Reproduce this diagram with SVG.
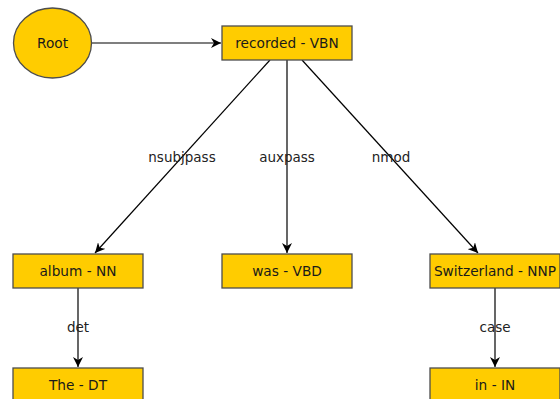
<svg xmlns="http://www.w3.org/2000/svg" width="560" height="399" viewBox="0 0 560 399">
  <style>
    .node { fill: #ffcc00; stroke: #4d4d4d; stroke-width: 1.3; }
    .label { font-family: "DejaVu Sans", sans-serif; font-size: 13.7px; fill: #1a1a1a; text-anchor: middle; dominant-baseline: central; }
    .edge { stroke: #000; stroke-width: 1.2; fill: none; marker-end: url(#arrow); }
    .elabel { font-family: "DejaVu Sans", sans-serif; font-size: 13.5px; fill: #222; text-anchor: middle; dominant-baseline: central; }
  </style>
  <defs>
    <marker id="arrow" viewBox="0 0 10 10" refX="10" refY="5" markerWidth="10" markerHeight="10" markerUnits="userSpaceOnUse" orient="auto">
      <path d="M0,0 L10,5 L0,10 L3,5 Z" fill="#000"/>
    </marker>
  </defs>
  <rect width="560" height="399" fill="#fff"/>

  <g id="connectors">
    <line class="edge" x1="92" y1="43" x2="221" y2="43"/>
    <line class="edge" x1="270" y1="60" x2="95" y2="253"/>
    <line class="edge" x1="287" y1="60" x2="287" y2="253"/>
    <line class="edge" x1="302" y1="60" x2="478" y2="253"/>
    <line class="edge" x1="78" y1="288" x2="78" y2="367"/>
    <line class="edge" x1="495" y1="288" x2="495" y2="367"/>
    <text class="elabel" x="182" y="157">nsubjpass</text>
    <text class="elabel" x="287" y="157">auxpass</text>
    <text class="elabel" x="391" y="157">nmod</text>
    <text class="elabel" x="78" y="327">det</text>
    <text class="elabel" x="495" y="327">case</text>
  </g>

  <g id="root">
    <ellipse class="node" cx="52.5" cy="43" rx="39" ry="35"/>
    <text class="label" x="52.5" y="43">Root</text>
  </g>
  <g id="recorded">
    <rect class="node" x="222" y="26" width="130" height="34"/>
    <text class="label" x="287" y="43">recorded - VBN</text>
  </g>
  <g id="album">
    <rect class="node" x="13" y="254" width="130" height="34"/>
    <text class="label" x="78" y="271">album - NN</text>
  </g>
  <g id="was">
    <rect class="node" x="222" y="254" width="130" height="34"/>
    <text class="label" x="287" y="271">was - VBD</text>
  </g>
  <g id="switzerland">
    <rect class="node" x="430" y="254" width="130" height="34"/>
    <text class="label" x="495" y="271">Switzerland - NNP</text>
  </g>
  <g id="the">
    <rect class="node" x="13" y="368" width="130" height="34"/>
    <text class="label" x="78" y="385">The - DT</text>
  </g>
  <g id="in">
    <rect class="node" x="430" y="368" width="130" height="34"/>
    <text class="label" x="495" y="385">in - IN</text>
  </g>
</svg>
